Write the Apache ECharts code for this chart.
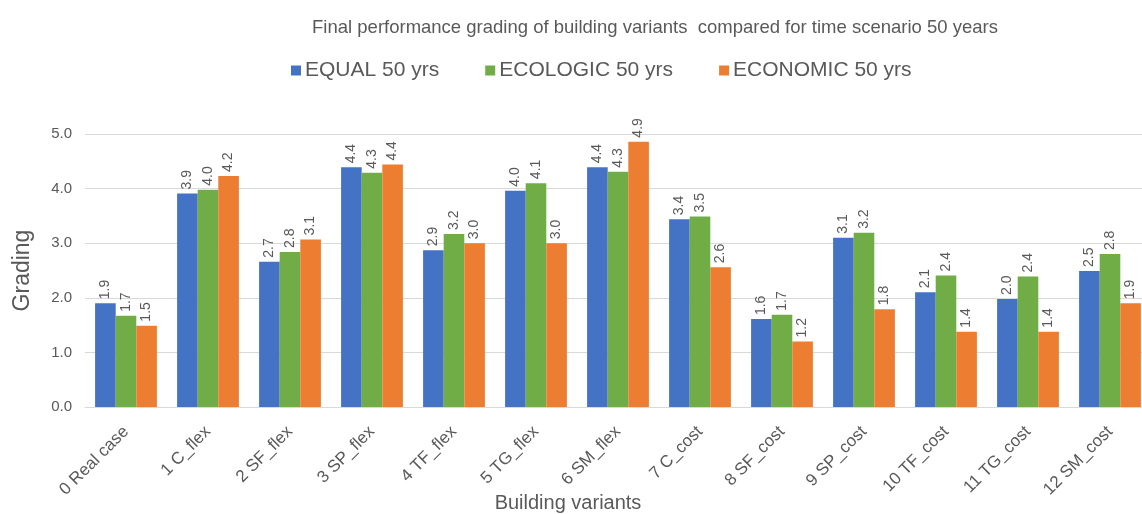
<!DOCTYPE html>
<html>
<head>
<meta charset="utf-8">
<script src="https://cdn.jsdelivr.net/npm/echarts@6/dist/echarts.min.js"></script>
<style>
html,body{margin:0;padding:0;background:#fff;}
#chart{width:1142px;height:514px;}
</style>
</head>
<body>
<div id="chart"></div>
<script>
const categories = ['0 Real case','1 C_flex','2 SF_flex','3 SP_flex','4 TF_flex','5 TG_flex','6 SM_flex','7 C_cost','8 SF_cost','9 SP_cost','10 TF_cost','11 TG_cost','12 SM_cost'];
const seriesNames = ['EQUAL 50 yrs','ECOLOGIC 50 yrs','ECONOMIC 50 yrs'];
const equalVals = [1.90, 3.91, 2.66, 4.39, 2.87, 3.96, 4.39, 3.44, 1.61, 3.10, 2.10, 1.98, 2.49];
const ecologicVals = [1.67, 3.98, 2.84, 4.29, 3.17, 4.10, 4.31, 3.49, 1.69, 3.19, 2.41, 2.39, 2.80];
const economicVals = [1.49, 4.23, 3.07, 4.44, 3.00, 3.00, 4.86, 2.56, 1.20, 1.79, 1.38, 1.38, 1.90];
const colors = ['#4472C4','#70AD47','#ED7D31'];
const FONT = 'Liberation Sans, Arial, sans-serif';
const TXT = '#595959';

const chart = echarts.init(document.getElementById('chart'));
function mk(name, data, color){
  return {
    name: name, type: 'bar', data: data,
    barWidth: 20.6, barGap: '0%',
    itemStyle: {color: color},
    label: {
      show: true, position: 'top', rotate: 90, align: 'left', verticalAlign: 'middle',
      distance: 4, color: TXT, fontFamily: FONT, fontSize: 14,
      formatter: p => p.value.toFixed(1)
    }
  };
}
chart.setOption({
  animation: false,
  color: colors,
  title: {
    text: 'Final performance grading of building variants  compared for time scenario 50 years',
    left: 650, top: 13, textAlign: 'center',
    textStyle: {fontFamily: FONT, fontSize: 18.5, fontWeight: 'normal', color: TXT}
  },
  legend: {
    top: 55, left: 286,
    itemWidth: 10, itemHeight: 10, itemGap: 46, icon: 'rect',
    textStyle: {fontFamily: FONT, fontSize: 21, color: TXT, padding: [0, 0, 0, -1]},
    data: seriesNames
  },
  grid: {left: 85, right: -9, top: 134, bottom: 107, containLabel: false, outerBoundsMode: 'none'},
  xAxis: {
    type: 'category', data: categories,
    name: 'Building variants', nameLocation: 'middle', nameGap: 86, nameMoveOverlap: false,
    nameTextStyle: {fontFamily: FONT, fontSize: 20, color: TXT, padding: [0, 100, 0, 0]},
    axisTick: {show: false},
    axisLine: {lineStyle: {color: '#d9d9d9'}},
    axisLabel: {rotate: 45, interval: 0, fontFamily: FONT, fontSize: 17, color: TXT, margin: 22}
  },
  yAxis: {
    type: 'value', min: 0, max: 5, interval: 1,
    name: 'Grading', nameLocation: 'middle', nameGap: 51, nameMoveOverlap: false,
    nameTextStyle: {fontFamily: FONT, fontSize: 23, color: TXT},
    axisLabel: {formatter: v => v.toFixed(1), fontFamily: FONT, fontSize: 15, color: TXT, margin: 13},
    splitLine: {lineStyle: {color: '#d9d9d9'}},
    axisLine: {show: false}, axisTick: {show: false}
  },
  series: [mk(seriesNames[0], equalVals, colors[0]), mk(seriesNames[1], ecologicVals, colors[1]), mk(seriesNames[2], economicVals, colors[2])]
});
</script>
</body>
</html>
